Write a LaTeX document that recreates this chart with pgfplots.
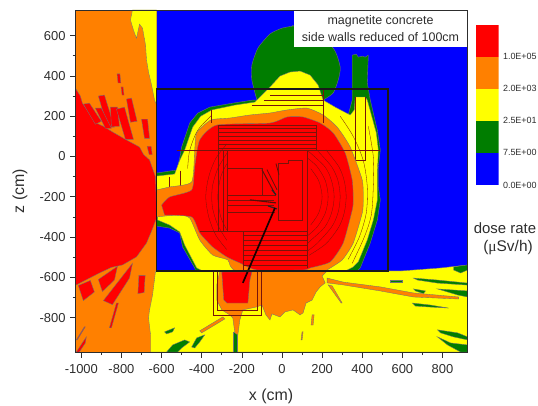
\documentclass[border=0pt]{standalone}
\usepackage{pgfplots}
\pgfplotsset{compat=1.18}
\usepackage{fontspec}
\setmainfont{Liberation Sans}
\newfontfamily\serifmu{Liberation Serif}
\definecolor{cred}{RGB}{255,0,0}
\definecolor{corange}{RGB}{255,128,0}
\definecolor{cyellow}{RGB}{255,255,0}
\definecolor{cgreen}{RGB}{0,125,0}
\definecolor{cblue}{RGB}{0,0,255}
\definecolor{txt}{RGB}{45,45,45}
\definecolor{cline}{RGB}{120,20,10}
\newcommand\poly[2]{\addplot[forget plot,fill=#1,draw=none] coordinates {#2} -- cycle;}
\newcommand\polyc[2]{\addplot[forget plot,fill=#1,draw=black!55,line width=0.35pt] coordinates {#2} -- cycle;}
\newcommand\polys[2]{\addplot[forget plot,fill=#1,draw=black!55,line width=0.35pt,smooth,tension=0.35] coordinates {#2} -- cycle;}
\newcommand\lne[1]{\addplot[forget plot,draw=cline,line width=0.3pt] coordinates {#1};}
\newcommand\arcl[1]{\addplot[forget plot,draw=cline,line width=0.3pt,smooth] coordinates {#1};}
\begin{document}
\begin{tikzpicture}[x=1bp,y=1bp]
\path[use as bounding box] (0,0) rectangle (538,405);
\begin{axis}[
  at={(75.5bp,53bp)},anchor=south west,
  scale only axis,width=391.5bp,height=342bp,
  xmin=-1029,xmax=922,ymin=-970,ymax=727,
  xtick={-1000,-800,-600,-400,-200,0,200,400,600,800},
  ytick={-800,-600,-400,-200,0,200,400,600},
  minor x tick num=1,minor y tick num=1,
  tick align=outside,tick pos=left,
  major tick length=5.5bp,minor tick length=3bp,
  every tick/.style={draw=txt,line width=0.7pt},
  axis line style={draw=txt,line width=0.8pt},
  tick label style={font=\fontsize{13}{13}\selectfont,text=txt},
  xticklabel style={yshift=-3bp},
  yticklabel style={xshift=-1bp},
  /pgf/number format/assume math mode=true,
  /pgf/number format/1000 sep={},
  axis on top,
]
% background
\poly{cblue}{(-627,727) (925,727) (925,-970) (-627,-970)}
\poly{corange}{(-1029,727) (-625,727) (-625,-970) (-1029,-970)}
\polyc{cyellow}{(-745,727) (-755,677) (-740,627) (-725,587) (-710,657) (-695,637) (-680,553) (-675,479) (-665,419) (-650,355) (-635,280) (-625,255) (-625,727)}
% left red region
\polyc{cred}{(-1030,340) (-1005,300) (-995,265) (-960,216) (-925,166) (-890,150) (-845,122) (-775,82) (-710,47) (-690,10) (-660,-17) (-645,-60) (-630,-102) (-625,-305) (-650,-370) (-675,-429) (-725,-498) (-795,-538) (-850,-550) (-910,-578) (-1025,-637) (-1035,-637)}
\polyc{cred}{(-990,260) (-960,265) (-900,175) (-930,160)}
\polyc{cred}{(-915,300) (-885,305) (-835,146) (-870,146)}
\polyc{cred}{(-930,240) (-900,240) (-850,140) (-880,140)}
\polyc{cred}{(-855,245) (-820,245) (-810,150) (-850,150)}
\polyc{cred}{(-825,235) (-785,245) (-740,85) (-780,85)}
\polyc{cred}{(-775,285) (-750,290) (-722,175) (-755,170)}
\polyc{cred}{(-700,185) (-670,185) (-660,90) (-685,90)}
\polyc{cred}{(-672,50) (-652,50) (-647,10) (-662,10)}
\polyc{cred}{(-822,410) (-808,410) (-803,365) (-817,365)}
\polyc{cred}{(-802,345) (-792,345) (-787,305) (-797,305)}
\polyc{cred}{(-1015,-640) (-955,-615) (-935,-672) (-990,-715)}
\polyc{cred}{(-915,-610) (-820,-545) (-835,-613) (-895,-670)}
\polyc{cred}{(-890,-715) (-745,-530) (-760,-603) (-845,-735)}
\polyc{cred}{(-713,-590) (-682,-590) (-687,-675) (-718,-680)}
\polyc{cred}{(-825,-727) (-815,-727) (-850,-850) (-860,-850)}
\polyc{cred}{(-1025,-970) (-975,-895) (-980,-925) (-1010,-970)}
\polyc{cred}{(-1025,-910) (-1020,-910) (-980,-845) (-985,-845)}
% yellow lower band
\polyc{cyellow}{(-630,-568) (-645,-687) (-660,-761) (-665,-801) (-655,-885) (-655,-970) (925,-970) (925,-538) (790,-553) (590,-568)}
% green streaks
\polyc{cgreen}{(-575,-970) (-545,-935) (-485,-910) (-460,-920) (-500,-950) (-520,-970)}
\polyc{cgreen}{(-450,-945) (-425,-900) (-385,-885) (-410,-920) (-435,-950)}
\polyc{cgreen}{(-585,-870) (-535,-850) (-545,-870) (-575,-880)}
\polyc{cgreen}{(-245,-870) (-225,-870) (-225,-970) (-245,-970)}
\polyc{cgreen}{(655,-603) (775,-613) (925,-628) (925,-638) (775,-628) (675,-613)}
\polyc{cgreen}{(855,-548) (925,-538) (925,-563) (890,-578) (855,-563)}
\polyc{cgreen}{(775,-657) (925,-667) (925,-697) (875,-687) (825,-672)}
\polyc{cgreen}{(650,-727) (740,-737) (830,-752) (740,-747) (665,-742)}
\polyc{cgreen}{(775,-860) (875,-875) (925,-895) (925,-910) (855,-895) (790,-875)}
\polyc{cgreen}{(775,-895) (840,-925) (925,-935) (925,-970) (890,-970) (825,-935)}
\polyc{cgreen}{(540,-613) (600,-613) (600,-623) (540,-623)}
\polyc{cgreen}{(655,-657) (715,-667) (705,-680) (665,-667)}
% orange streaks below
\polyc{corange}{(225,-603) (305,-623) (490,-647) (655,-677) (880,-697) (880,-707) (655,-697) (490,-667) (305,-637) (225,-627)}
\polyc{corange}{(230,-637) (250,-642) (300,-727) (295,-727)}
\polyc{corange}{(-410,-865) (-295,-796) (-285,-806) (-400,-875)}
\polyc{corange}{(100,-870) (105,-870) (100,-910) (95,-910)}
\polyc{corange}{(150,-786) (160,-786) (155,-836) (145,-836)}
% green dome and body
\polys{cgreen}{(-125,280) (-150,379) (-150,454) (-120,538) (-60,608) (0,637) (55,647) (60,647) (250,543) (290,444) (280,379) (255,315) (205,280)}
\polyc{cgreen}{(-625,-82) (-525,-67) (-510,-10) (-500,47) (-460,166) (-420,215) (-360,245) (-245,265) (-145,280) (205,280) (330,205) (350,280) (350,503) (370,508) (380,493) (400,498) (415,493) (430,503) (425,365) (440,280) (475,131) (490,32) (480,-52) (480,-151) (490,-216) (475,-315) (440,-429) (390,-553) (375,-568) (-430,-568) (-435,-553) (-495,-449) (-510,-379) (-560,-355) (-625,-345)}
% yellow body
\polyc{cyellow}{(-625,-97) (-535,-87) (-510,-20) (-485,32) (-445,146) (-405,200) (-350,231) (-235,255) (-135,270) (-60,345) (-10,399) (40,419) (90,424) (140,404) (180,355) (205,280) (265,245) (340,206) (360,231) (365,295) (415,295) (425,280) (470,117) (480,32) (475,-82) (475,-216) (455,-315) (425,-414) (380,-523) (355,-548) (315,-568) (-395,-568) (-425,-553) (-485,-439) (-510,-374) (-560,-340) (-620,-315)}
% contour lines in yellow
\arcl{(290,200) (355,100) (405,-20) (425,-150) (420,-280) (385,-400) (330,-510)}
\arcl{(430,150) (455,0) (455,-150) (445,-290) (410,-400) (350,-530)}
\arcl{(-470,-60) (-460,30) (-420,130) (-350,205)}
\lne{(-60,305) (205,305)}
\lne{(-90,280) (205,280)}
\lne{(-150,255) (205,255)}
\lne{(365,295) (365,-17) (415,-17) (415,295)}
\lne{(-560,-100) (-560,-200)}
\lne{(-510,-70) (-510,-190)}
% orange body and lower mass
\polys{corange}{(-625,-166) (-560,-151) (-450,-126) (-435,32) (-425,117) (-355,181) (-260,191) (-160,206) (-60,216) (25,231) (125,240) (205,206) (275,146) (340,47) (400,-117) (405,-216) (400,-280) (355,-429) (300,-513) (225,-563) (225,-568) (-220,-568) (-270,-513) (-345,-489) (-410,-414) (-460,-305) (-520,-290) (-625,-300)}
\polyc{corange}{(-310,-568) (-325,-637) (-325,-712) (-300,-761) (-260,-786) (-245,-801) (-235,-875) (-220,-885) (-210,-811) (-195,-761) (-125,-746) (-100,-736) (-80,-786) (-60,-811) (-50,-781) (-10,-796) (15,-771) (55,-761) (90,-786) (105,-776) (120,-727) (150,-712) (170,-672) (190,-647) (215,-627) (200,-593) (225,-568)}
% red body
\polys{cred}{(-600,-241) (-560,-201) (-450,-166) (-435,-52) (-410,82) (-325,156) (-60,166) (25,196) (105,196) (190,166) (255,117) (315,17) (350,-117) (355,-216) (350,-265) (305,-429) (240,-523) (140,-553) (105,-563) (-125,-563) (-210,-528) (-275,-498) (-345,-449) (-410,-379) (-450,-300) (-585,-290)}
\polyc{cred}{(-300,-573) (-290,-712) (-275,-727) (-170,-727) (-160,-613) (-150,-573)}
% lower box lines
\lne{(-345,-573) (-345,-786) (-105,-786) (-105,-573)}
\lne{(-325,-573) (-325,-761) (-125,-761) (-125,-573)}
% arcs in the red body
\arcl{(220,32) (283,-50) (310,-120) (320,-200) (310,-280) (283,-350) (220,-432) (135,-490)}
\arcl{(174,32) (247,-50) (279,-120) (290,-200) (279,-280) (247,-350) (174,-432) (125,-470)}
\arcl{(125,32) (213,-50) (247,-120) (260,-200) (247,-280) (213,-350) (139,-420) (125,-435)}
\arcl{(130,-10) (175,-50) (216,-120) (230,-200) (216,-280) (175,-350) (125,-395)}
\arcl{(143,-60) (183,-120) (200,-200) (183,-280) (143,-340)}
\arcl{(-275,62) (-330,-10) (-365,-100) (-380,-200) (-365,-300) (-330,-390) (-275,-462)}
\arcl{(-275,16) (-320,-60) (-345,-140) (-350,-200) (-345,-260) (-320,-340) (-275,-416)}
\arcl{(-275,-36) (-305,-100) (-320,-200) (-305,-300) (-275,-364)}
% structure lines
\lne{(-355,231) (-355,166)}
\lne{(205,335) (205,166)}
\lne{(-320,156) (170,156) (170,32) (-320,32) (-320,156)}
\lne{(-320,141) (170,141)}
\lne{(-320,122) (170,122)}
\lne{(-320,102) (170,102)}
\lne{(-320,82) (170,82)}
\lne{(-320,62) (170,62)}
\lne{(-320,42) (170,42)}
\lne{(-525,32) (490,32)}
\lne{(-275,32) (-275,-370)}
\lne{(125,32) (125,-553)}
\lne{(-320,32) (-320,-370)}
\lne{(-295,32) (-295,-370)}
\lne{(-410,-370) (125,-370)}
\lne{(-195,-370) (-195,-568)}
\lne{(-195,-389) (125,-389)}
\lne{(-195,-414) (125,-414)}
\lne{(-195,-439) (125,-439)}
\lne{(-195,-464) (125,-464)}
\lne{(-195,-489) (125,-489)}
\lne{(-195,-514) (125,-514)}
\lne{(-195,-539) (125,-539)}
\lne{(-20,-32) (30,-32) (30,-17) (100,-17) (100,-315) (-20,-315) (-20,-32)}
\lne{(-275,-60) (-100,-60) (-100,-190)}
\lne{(-275,-190) (-30,-190)}
\lne{(-275,-215) (-40,-215)}
\lne{(-275,-240) (-40,-240)}
\lne{(-275,-275) (-35,-275)}
% dark detail near the centre
\addplot[forget plot,draw=cline!80!black,line width=1pt] coordinates {(-100,-65) (-35,-185)};
\addplot[forget plot,draw=cline!80!black,line width=0.8pt] coordinates {(-75,-65) (-25,-165)};
\addplot[forget plot,draw=cline!80!black,line width=0.8pt] coordinates {(-30,-35) (-15,-90)};
\addplot[forget plot,draw=black!85,line width=1.3pt] coordinates {(-50,-165) (-30,-190)};
\addplot[forget plot,draw=cline!70!black,line width=1.1pt] coordinates {(-160,-215) (-30,-230)};
\addplot[forget plot,draw=black!85,line width=1.2pt] coordinates {(-70,-245) (-25,-260)};
% beam line
\addplot[forget plot,draw=black!90!red,line width=1.7pt] coordinates {(-35,-255) (-195,-627)};
% black frame
\poly{black!90}{(-629,339) (531,339) (531,331) (-629,331)}
\poly{black!90}{(523,339) (531,339) (531,-572) (523,-572)}
\poly{black!90}{(-629,-564) (531,-564) (531,-572) (-629,-572)}
\poly{black!90}{(-629,339) (-621,339) (-621,-572) (-629,-572)}
% label box
\poly{white}{(60,730) (925,730) (925,545) (60,545)}
\end{axis}
% colour bar
\begin{axis}[
  at={(476bp,220bp)},anchor=south west,
  scale only axis,width=22.5bp,height=160.5bp,
  xmin=0,xmax=1,ymin=0,ymax=5,
  xtick=\empty,ytick={0,1,2,3,4},
  yticklabels={0.0E+00,7.5E+00,2.5E+01,2.0E+03,1.0E+05},
  ytick pos=right,major tick length=0pt,
  axis line style={draw=none},
  yticklabel style={font=\fontsize{9}{9}\selectfont,text=txt,xshift=1bp},
]
\poly{cblue}{(0,0) (1,0) (1,1) (0,1)}
\poly{cgreen}{(0,1) (1,1) (1,2) (0,2)}
\poly{cyellow}{(0,2) (1,2) (1,3) (0,3)}
\poly{corange}{(0,3) (1,3) (1,4) (0,4)}
\poly{cred}{(0,4) (1,4) (1,5) (0,5)}
\end{axis}
\node[text=txt,font=\fontsize{12.5}{12.5}\selectfont] at (380.5,384) {magnetite concrete};
\node[text=txt,font=\fontsize{12.5}{12.5}\selectfont] at (380.5,368) {side walls reduced of 100cm};
\node[text=txt,font=\fontsize{16}{16}\selectfont] at (271,8.5) {x (cm)};
\node[text=txt,font=\fontsize{16}{16}\selectfont,rotate=90] at (20,214) {z (cm)};
\node[text=txt,font=\fontsize{15}{15}\selectfont] at (505,177) {dose rate};
\node[text=txt,font=\fontsize{15.5}{15.5}\selectfont] at (508,157) {({\serifmu μ}Sv/h)};
\end{tikzpicture}
\end{document}
